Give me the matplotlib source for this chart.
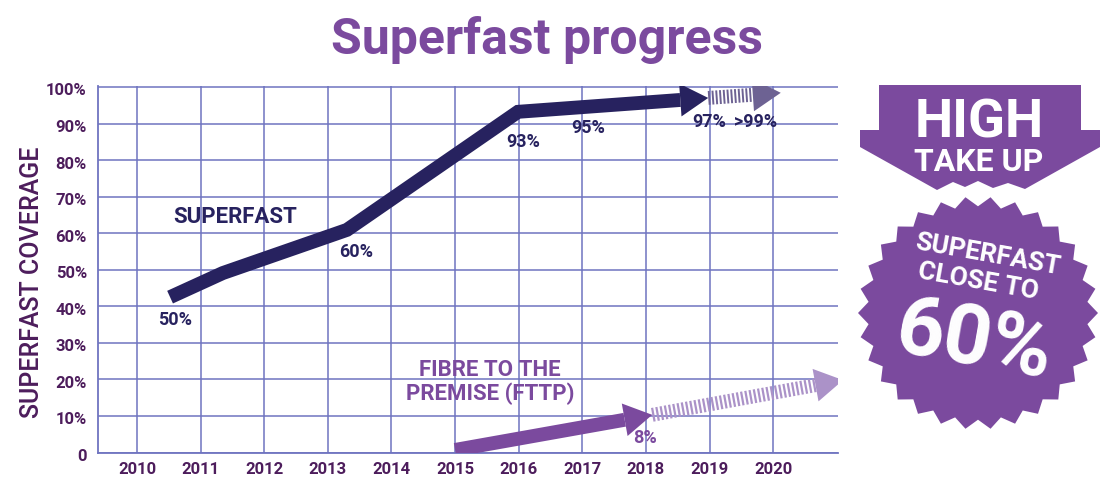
import numpy as np
import matplotlib.pyplot as plt
from matplotlib.patches import Polygon
from matplotlib.transforms import IdentityTransform, ScaledTranslation

plt.rcParams['lines.scale_dashes'] = False
FONT = ['Roboto', 'DejaVu Sans']

# superfast coverage line (as drawn)
sf_years = [2010.52, 2011.35, 2013.30, 2015.99, 2018.98]
sf_cov = [42.5, 49.1, 60.9, 93.2, 97.0]
sf_future_year = 2020.12
sf_future_cov = 98.4

# fibre to the premise
fttp_years = [2015.0, 2018.1]
fttp_cov = [0.7, 10.3]
fttp_future_year = 2021.1
fttp_future_cov = 19.8

year_ticks = list(range(2010, 2021))
cov_ticks = list(range(0, 101, 10))
cov_labels = ['0'] + ['%d%%' % v for v in cov_ticks[1:]]

sf_labels = ['50%', '60%', '93%', '95%', '97%', '>99%']
sf_label_pos = [(2010.6, 36.3), (2013.44, 54.9), (2016.07, 85.0),
                (2017.09, 88.8), (2018.99, 90.4), (2019.73, 90.4)]

NAVY = '#27225f'
NAVY_LIGHT = '#6d6293'
PURPLE = '#7b4a9e'
PURPLE_LIGHT = '#ab92c8'
GRID = '#6f74c0'
TICK = '#4d1d5c'

fig = plt.figure(figsize=(11.04, 4.86), dpi=100)
ax = fig.add_axes([98/1104, 1-452.5/486, 740/1104, 367/486])
ax.set_xlim(2009.387, 2021.02)
ax.set_ylim(0, 100.4)
ax.set_xticks(year_ticks)
ax.set_yticks(cov_ticks)
ax.set_yticklabels(cov_labels)
ax.grid(True, color=GRID, lw=1.1)
ax.set_axisbelow(True)
for s in ['top', 'right']:
    ax.spines[s].set_visible(False)
for s in ['left', 'bottom']:
    ax.spines[s].set_color(GRID)
    ax.spines[s].set_linewidth(1.3)
ax.tick_params(length=0, pad=8, colors=TICK)
ax.tick_params(axis='x', pad=7)
for lab in ax.get_xticklabels() + ax.get_yticklabels():
    lab.set_family(FONT)
    lab.set_fontweight('bold')
    lab.set_fontsize(12)
for lab in ax.get_yticklabels():
    lab.set_transform(lab.get_transform() +
                      ScaledTranslation(0, -0.025, fig.dpi_scale_trans))
ax.set_ylabel('SUPERFAST COVERAGE', family=FONT, fontsize=18,
              fontweight='medium', color=TICK)
ax.yaxis.set_label_coords(-0.073, 0.465)


def head(p0, p1, length, half, color):
    a = ax.transData.transform(p0)
    b = ax.transData.transform(p1)
    d = (b - a) / np.hypot(*(b - a))
    n = np.array([-d[1], d[0]])
    base = b - d * length
    tri = [b, base + n * half, base - n * half]
    ax.add_patch(Polygon(tri, closed=True, transform=IdentityTransform(),
                         color=color, zorder=4, lw=0))
    return ax.transData.inverted().transform(base)


def arrow(xs, ys, color, style, zorder):
    base = head((xs[-2], ys[-2]), (xs[-1], ys[-1]), 28, 16.5, color)
    xx = list(xs[:-1]) + [base[0]]
    yy = list(ys[:-1]) + [base[1]]
    ax.plot(xx, yy, color=color, lw=10, linestyle=style,
            solid_joinstyle='miter', solid_capstyle='butt',
            dash_capstyle='butt', zorder=zorder)


# dashed future parts first, then solid arrows on top
arrow([sf_years[-1], sf_future_year], [sf_cov[-1], sf_future_cov],
      NAVY_LIGHT, (0, (1.4, 1.3)), 3)
arrow([fttp_years[-1], fttp_future_year], [fttp_cov[-1], fttp_future_cov],
      PURPLE_LIGHT, (0, (1.6, 1.5)), 3)
arrow(sf_years, sf_cov, NAVY, '-', 5)
arrow(fttp_years, fttp_cov, PURPLE, '-', 5)

for t, (x, y) in zip(sf_labels, sf_label_pos):
    ax.text(x, y, t, family=FONT, fontweight='bold', fontsize=13,
            color=NAVY, ha='center', va='center', zorder=6)
ax.text(2017.98, 4.0, '8%', family=FONT, fontweight='bold', fontsize=13,
        color=PURPLE, ha='center', va='center', zorder=6)
ax.text(2011.54, 64.4, 'SUPERFAST', family=FONT, fontweight='bold',
        fontsize=16, color=NAVY, ha='center', va='center')
ax.text(2015.55, 19.3, 'FIBRE TO THE\nPREMISE (FTTP)', family=FONT,
        fontweight='bold', fontsize=16, color=PURPLE, ha='center',
        va='center', linespacing=1.05)

fig.text(547/1104, 1-54/486, 'Superfast progress', family=FONT,
         fontweight='bold', fontsize=36, color=PURPLE, ha='center',
         va='baseline')

# badge on the right, drawn in pixel coordinates
bx = fig.add_axes([0, 0, 1, 1], zorder=10)
bx.set_xlim(0, 1104)
bx.set_ylim(486, 0)
bx.axis('off')
bx.patch.set_alpha(0)

down = [(879, 85), (1081, 85), (1081, 130), (1100, 130), (1100, 147),
        (1025, 189), (1008, 183), (993, 188), (978, 181), (965, 187),
        (953, 182), (937, 190), (860, 147), (860, 130), (879, 130)]
bx.add_patch(Polygon(down, closed=True, color=PURPLE, lw=0))

n_teeth = 30
ang = np.linspace(0, 2*np.pi, 2*n_teeth, endpoint=False)
rad = np.where(np.arange(2*n_teeth) % 2 == 0, 120, 110)
seal = np.column_stack([978 + rad*np.cos(ang), 313 + rad*0.97*np.sin(ang)])
bx.add_patch(Polygon(seal, closed=True, color=PURPLE, lw=0))

bx.text(979, 137, 'HIGH', family=FONT, fontweight='bold', fontsize=39,
        color='white', ha='center', va='baseline')
bx.text(979, 171, 'TAKE UP', family=FONT, fontweight='bold', fontsize=23,
        color='white', ha='center', va='baseline')
bx.text(988, 255, 'SUPERFAST', family=FONT, fontweight='bold', fontsize=19,
        color='white', ha='center', va='center', rotation=-10,
        rotation_mode='anchor')
bx.text(978, 282, 'CLOSE TO', family=FONT, fontweight='bold', fontsize=19,
        color='white', ha='center', va='center', rotation=-10,
        rotation_mode='anchor')
bx.text(974, 343, '60%', family=FONT, fontweight='bold', fontsize=60,
        color='white', ha='center', va='center', rotation=-10,
        rotation_mode='anchor')

fig.savefig('out.png', dpi=100)
